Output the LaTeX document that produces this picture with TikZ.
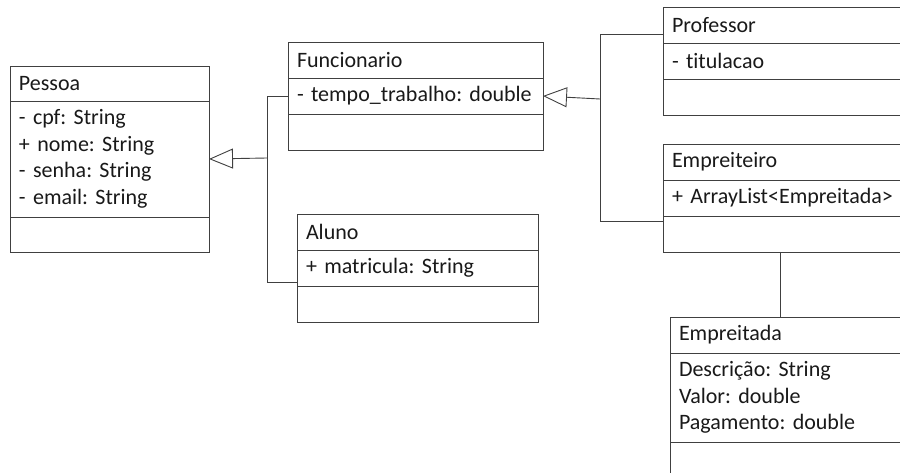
\documentclass[tikz,border=0pt]{standalone}
\usepackage{fontspec}
\setmainfont{Carlito}[Ligatures=NoCommon]
\usetikzlibrary{arrows.meta}
\frenchspacing
\hyphenpenalty=10000

\tikzset{
  umlbox/.style={draw=black!75, line width=0.9pt, anchor=north west, outer sep=0pt,
    align=left, inner xsep=9pt, inner ysep=0pt, text=black!90,
    font=\fontsize{22}{26.5}\selectfont},
  link/.style={draw=black!75, line width=0.9pt},
  gen/.style={link, -{Triangle[open, length=24pt, width=20pt, line width=0.9pt]}}
}

\begin{document}
\begin{tikzpicture}[x=1pt, y=-1pt]
\useasboundingbox (0,0) rectangle (900,473);
\clip (0,0) rectangle (900,473);

% Pessoa
\node[umlbox, text width=181pt, minimum height=35pt] (pessoaTitle) at (10,66) {Pessoa};
\node[umlbox, text width=181pt, minimum height=116pt] (pessoaAttr) at (pessoaTitle.south west) {
    - cpf: String\\
    + nome: String\\
    - senha: String\\
    - email: String
};
\node[umlbox, text width=181pt, minimum height=35pt] (pessoaMeth) at (pessoaAttr.south west) {};

% Funcionario
\node[umlbox, text width=237pt, minimum height=36pt] (funcTitle) at (288,42) {Funcionario};
\node[umlbox, text width=237pt, minimum height=36pt] (funcAttr) at (funcTitle.south west) {- tempo\_trabalho: double};
\node[umlbox, text width=237pt, minimum height=36pt] (funcMeth) at (funcAttr.south west) {};

% Aluno
\node[umlbox, text width=223pt, minimum height=36pt] (alunoTitle) at (297,214) {Aluno};
\node[umlbox, text width=223pt, minimum height=36pt] (alunoAttr) at (alunoTitle.south west) {+ matricula: String};
\node[umlbox, text width=223pt, minimum height=36pt] (alunoMeth) at (alunoAttr.south west) {};

% Professor
\node[umlbox, text width=242pt, minimum height=36pt] (profTitle) at (663,7) {Professor};
\node[umlbox, text width=242pt, minimum height=36pt] (profAttr) at (profTitle.south west) {- titulacao};
\node[umlbox, text width=242pt, minimum height=36pt] (profMeth) at (profAttr.south west) {};

% Empreiteiro
\node[umlbox, text width=242pt, minimum height=36pt] (empTitle) at (663,144) {Empreiteiro};
\node[umlbox, text width=242pt, minimum height=36pt] (empAttr) at (empTitle.south west) {+ ArrayList<Empreitada>};
\node[umlbox, text width=242pt, minimum height=36pt] (empMeth) at (empAttr.south west) {};

% Empreitada
\node[umlbox, text width=232pt, minimum height=36pt] (taskTitle) at (670,317) {Empreitada};
\node[umlbox, text width=232pt, minimum height=89pt] (taskAttr) at (taskTitle.south west) {
    Descrição: String\\
    Valor: double\\
    Pagamento: double
};
\node[umlbox, text width=232pt, minimum height=36pt] (taskMeth) at (taskAttr.south west) {};

% Heranca: Funcionario e Aluno -> Pessoa
\coordinate (pjoin) at (267,158);
\draw[link] (funcAttr.west) -| (pjoin);
\draw[link] ([yshift=4pt]alunoAttr.south west) -| (pjoin);
\draw[gen] (pjoin) -- (pessoaAttr.east);

% Heranca: Professor e Empreiteiro -> Funcionario
\coordinate (fjoin) at (600,99);
\draw[link] ([yshift=-9pt]profTitle.west) -| (fjoin);
\draw[link] ([yshift=13pt]empMeth.west) -| (fjoin);
\draw[gen] (fjoin) -- (funcAttr.east);

% Associacao Empreiteiro - Empreitada
\draw[link] ([xshift=117pt]empMeth.south west) -- ([xshift=110pt]taskTitle.north west);
\end{tikzpicture}
\end{document}
